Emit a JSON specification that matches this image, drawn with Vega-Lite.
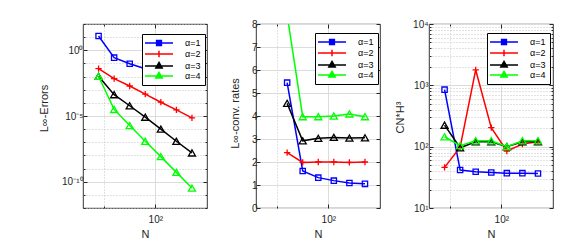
{
"$schema": "https://vega.github.io/schema/vega-lite/v6.json",
"autosize": {"type": "pad"},
"padding": {"left": 37, "top": 11, "right": 0, "bottom": 0},
"spacing": 49,
"bounds": "flush",
"config": {
  "font": "Liberation Sans",
  "view": {"stroke": "#000000", "strokeWidth": 0.8},
  "axis": {"labelFontSize": 10, "titleFontSize": 11, "titleFontWeight": "normal", "labelColor": "#262626", "titleColor": "#262626", "domain": false, "tickColor": "#262626", "labelOverlap": false, "labelFlush": false},
  "legend": {"labelFontSize": 9, "labelColor": "#000000"}
},
"datasets": {
  "err": [
    {"N": 8, "s": "α=1", "v": 12.3}, {"N": 16, "s": "α=1", "v": 0.275}, {"N": 32, "s": "α=1", "v": 0.0955}, {"N": 64, "s": "α=1", "v": 0.0398}, {"N": 128, "s": "α=1", "v": 0.0178}, {"N": 256, "s": "α=1", "v": 0.0087}, {"N": 512, "s": "α=1", "v": 0.00427},
    {"N": 8, "s": "α=2", "v": 0.0398}, {"N": 16, "s": "α=2", "v": 0.00692}, {"N": 32, "s": "α=2", "v": 0.00191}, {"N": 64, "s": "α=2", "v": 0.000468}, {"N": 128, "s": "α=2", "v": 0.000112}, {"N": 256, "s": "α=2", "v": 0.0000295}, {"N": 512, "s": "α=2", "v": 0.00000724},
    {"N": 8, "s": "α=3", "v": 0.0105}, {"N": 16, "s": "α=3", "v": 0.000417}, {"N": 32, "s": "α=3", "v": 0.0000603}, {"N": 64, "s": "α=3", "v": 0.00000813}, {"N": 128, "s": "α=3", "v": 0.000001}, {"N": 256, "s": "α=3", "v": 1.2e-7}, {"N": 512, "s": "α=3", "v": 1.55e-8},
    {"N": 8, "s": "α=4", "v": 0.0105}, {"N": 16, "s": "α=4", "v": 0.0000316}, {"N": 32, "s": "α=4", "v": 0.00000186}, {"N": 64, "s": "α=4", "v": 1.2e-7}, {"N": 128, "s": "α=4", "v": 8.13e-9}, {"N": 256, "s": "α=4", "v": 5.13e-10}, {"N": 512, "s": "α=4", "v": 3.31e-11}
  ],
  "rate": [
    {"N": 16, "s": "α=1", "v": 5.45}, {"N": 32, "s": "α=1", "v": 1.61}, {"N": 64, "s": "α=1", "v": 1.32}, {"N": 128, "s": "α=1", "v": 1.19}, {"N": 256, "s": "α=1", "v": 1.09}, {"N": 512, "s": "α=1", "v": 1.05},
    {"N": 16, "s": "α=2", "v": 2.41}, {"N": 32, "s": "α=2", "v": 1.98}, {"N": 64, "s": "α=2", "v": 2.0}, {"N": 128, "s": "α=2", "v": 2.0}, {"N": 256, "s": "α=2", "v": 1.98}, {"N": 512, "s": "α=2", "v": 2.0},
    {"N": 16, "s": "α=3", "v": 4.55}, {"N": 32, "s": "α=3", "v": 2.92}, {"N": 64, "s": "α=3", "v": 3.03}, {"N": 128, "s": "α=3", "v": 3.07}, {"N": 256, "s": "α=3", "v": 3.04}, {"N": 512, "s": "α=3", "v": 3.05},
    {"N": 16, "s": "α=4", "v": 8.4}, {"N": 32, "s": "α=4", "v": 3.97}, {"N": 64, "s": "α=4", "v": 3.97}, {"N": 128, "s": "α=4", "v": 4.0}, {"N": 256, "s": "α=4", "v": 4.09}, {"N": 512, "s": "α=4", "v": 3.97}
  ],
  "cn": [
    {"N": 8, "s": "α=1", "v": 850}, {"N": 16, "s": "α=1", "v": 41.7}, {"N": 32, "s": "α=1", "v": 39}, {"N": 64, "s": "α=1", "v": 38}, {"N": 128, "s": "α=1", "v": 37}, {"N": 256, "s": "α=1", "v": 37}, {"N": 512, "s": "α=1", "v": 36.5},
    {"N": 8, "s": "α=2", "v": 46}, {"N": 16, "s": "α=2", "v": 98}, {"N": 32, "s": "α=2", "v": 1780}, {"N": 64, "s": "α=2", "v": 204}, {"N": 128, "s": "α=2", "v": 85}, {"N": 256, "s": "α=2", "v": 110}, {"N": 512, "s": "α=2", "v": 120},
    {"N": 8, "s": "α=3", "v": 224}, {"N": 16, "s": "α=3", "v": 96}, {"N": 32, "s": "α=3", "v": 120}, {"N": 64, "s": "α=3", "v": 120}, {"N": 128, "s": "α=3", "v": 100}, {"N": 256, "s": "α=3", "v": 120}, {"N": 512, "s": "α=3", "v": 120},
    {"N": 8, "s": "α=4", "v": 145}, {"N": 16, "s": "α=4", "v": 104}, {"N": 32, "s": "α=4", "v": 125}, {"N": 64, "s": "α=4", "v": 125}, {"N": 128, "s": "α=4", "v": 100}, {"N": 256, "s": "α=4", "v": 125}, {"N": 512, "s": "α=4", "v": 125}
  ]
},
"hconcat": [
  {
    "width": 124, "height": 184,
    "data": {"name": "err"},
    "layer": [
      {
        "mark": {"type": "line", "strokeWidth": 1.5, "clip": true},
        "encoding": {
          "x": {"field": "N", "type": "quantitative", "scale": {"type": "log", "domain": [4, 1000], "nice": false},
                "axis": {"orient": "bottom", "values": [10, 100], "title": "N", "labelExpr": "datum.value===100?'10²':''", "grid": true,
                         "gridColor": {"condition": {"test": "datum.value===100", "value": "#dcdcdc"}, "value": "#c4c4c4"},
                         "gridDash": {"condition": {"test": "datum.value===100", "value": []}, "value": [1, 2]},
                         "tickSize": {"condition": {"test": "datum.value===100", "value": -4}, "value": -2},
                         "labelPadding": 10, "titlePadding": 2}},
          "y": {"field": "v", "type": "quantitative", "scale": {"type": "log", "domain": [1e-12, 100], "nice": false},
                "axis": {"orient": "left", "values": [1e-12, 1e-11, 1e-10, 1e-9, 1e-8, 1e-7, 1e-6, 1e-5, 1e-4, 1e-3, 1e-2, 1e-1, 1, 10, 100],
                         "title": "L∞-Errors", "titleX": -34, "titleY": 84,
                         "labelExpr": "round(log(datum.value)/LN10)===0?'10⁰':round(log(datum.value)/LN10)===-5?'10⁻⁵':round(log(datum.value)/LN10)===-10?'10⁻¹⁰':''",
                         "grid": true,
                         "gridColor": {"condition": {"test": "round(log(datum.value)/LN10)%5===0", "value": "#dcdcdc"}, "value": "#c4c4c4"},
                         "gridDash": {"condition": {"test": "round(log(datum.value)/LN10)%5===0", "value": []}, "value": [1, 2]},
                         "tickSize": {"condition": {"test": "round(log(datum.value)/LN10)%5===0", "value": -4}, "value": -2},
                         "labelPadding": 4}},
          "color": {"field": "s", "type": "nominal", "scale": {"domain": ["α=1", "α=2", "α=3", "α=4"], "range": ["#0000ff", "#ff0000", "#000000", "#00ff00"]},
                    "legend": {"title": null, "orient": "none", "legendX": 59, "legendY": 10, "strokeColor": "#000000", "fillColor": "#ffffff", "padding": 4, "symbolSize": 64, "symbolOffset": 8, "labelOffset": 21, "rowPadding": -2.3,
                               "labelExpr": "datum.label + '   '",
                               "encode": {"symbols": {"update": {
                                 "shape": {"signal": "datum.value==='α=1'?'M-3.5,0H3.5M-0.6,-0.6H0.6V0.6H-0.6Z':datum.value==='α=2'?'M-3.5,0H3.5M0,-0.8V0.8':'M-3.5,0H3.5M0,-0.9L0.8,0.5H-0.8Z'"},
                                 "fill": {"signal": "datum.value==='α=1'?'#0000ff':datum.value==='α=2'?'#ff0000':datum.value==='α=3'?'#000000':'#00ff00'"},
                                 "stroke": {"signal": "datum.value==='α=1'?'#0000ff':datum.value==='α=2'?'#ff0000':datum.value==='α=3'?'#000000':'#00ff00'"},
                                 "strokeWidth": {"value": 1.5}, "opacity": {"value": 1}, "fillOpacity": {"value": 1}}}}}}
        }
      },
      {
        "mark": {"type": "point", "filled": false, "strokeWidth": 1.3, "opacity": 1, "clip": true},
        "encoding": {
          "x": {"field": "N", "type": "quantitative", "axis": null},
          "y": {"field": "v", "type": "quantitative", "axis": null},
          "color": {"field": "s", "type": "nominal"},
          "shape": {"condition": [{"test": "datum.s==='α=1'", "value": "square"}, {"test": "datum.s==='α=2'", "value": "M-1,0H1M0,-1V1"}], "value": "triangle-up"},
          "size": {"condition": [{"test": "datum.s==='α=1'", "value": 28}, {"test": "datum.s==='α=2'", "value": 40}], "value": 50}
        }
      },
      {
        "mark": {"type": "point", "opacity": 0},
        "encoding": {
          "x": {"field": "N", "type": "quantitative", "axis": {"orient": "top", "values": [10, 100], "labels": false, "title": null, "grid": false,
                "tickSize": {"condition": {"test": "datum.value===100", "value": -4}, "value": -2}}},
          "y": {"field": "v", "type": "quantitative", "axis": {"orient": "right", "values": [1e-12, 1e-11, 1e-10, 1e-9, 1e-8, 1e-7, 1e-6, 1e-5, 1e-4, 1e-3, 1e-2, 1e-1, 1, 10, 100], "labels": false, "title": null, "grid": false,
                "tickSize": {"condition": {"test": "round(log(datum.value)/LN10)%5===0", "value": -4}, "value": -2}}}
        }
      }
    ],
    "resolve": {"axis": {"x": "independent", "y": "independent"}}
  },
  {
    "width": 124, "height": 184,
    "data": {"name": "rate"},
    "layer": [
      {
        "mark": {"type": "line", "strokeWidth": 1.5, "clip": true},
        "encoding": {
          "x": {"field": "N", "type": "quantitative", "scale": {"type": "log", "domain": [4, 1000], "nice": false},
                "axis": {"orient": "bottom", "values": [10, 100], "title": "N", "labelExpr": "datum.value===100?'10²':''", "grid": true,
                         "gridColor": {"condition": {"test": "datum.value===100", "value": "#dcdcdc"}, "value": "#c4c4c4"},
                         "gridDash": {"condition": {"test": "datum.value===100", "value": []}, "value": [1, 2]},
                         "tickSize": {"condition": {"test": "datum.value===100", "value": -4}, "value": -2},
                         "labelPadding": 10, "titlePadding": 2}},
          "y": {"field": "v", "type": "quantitative", "scale": {"domain": [0, 8], "nice": false, "zero": false},
                "axis": {"orient": "left", "values": [0, 1, 2, 3, 4, 5, 6, 7, 8], "title": "L∞-conv. rates", "titleX": -16, "titleY": 89,
                         "grid": true, "gridColor": "#dcdcdc", "tickSize": -4, "labelPadding": 3}},
          "color": {"field": "s", "type": "nominal", "scale": {"domain": ["α=1", "α=2", "α=3", "α=4"], "range": ["#0000ff", "#ff0000", "#000000", "#00ff00"]},
                    "legend": {"title": null, "orient": "none", "legendX": 59, "legendY": 9, "strokeColor": "#000000", "fillColor": "#ffffff", "padding": 4, "symbolSize": 64, "symbolOffset": 8, "labelOffset": 21, "rowPadding": -2.3,
                               "labelExpr": "datum.label + '   '",
                               "encode": {"symbols": {"update": {
                                 "shape": {"signal": "datum.value==='α=1'?'M-3.5,0H3.5M-0.6,-0.6H0.6V0.6H-0.6Z':datum.value==='α=2'?'M-3.5,0H3.5M0,-0.8V0.8':'M-3.5,0H3.5M0,-0.9L0.8,0.5H-0.8Z'"},
                                 "fill": {"signal": "datum.value==='α=1'?'#0000ff':datum.value==='α=2'?'#ff0000':datum.value==='α=3'?'#000000':'#00ff00'"},
                                 "stroke": {"signal": "datum.value==='α=1'?'#0000ff':datum.value==='α=2'?'#ff0000':datum.value==='α=3'?'#000000':'#00ff00'"},
                                 "strokeWidth": {"value": 1.5}, "opacity": {"value": 1}, "fillOpacity": {"value": 1}}}}}}
        }
      },
      {
        "mark": {"type": "point", "filled": false, "strokeWidth": 1.3, "opacity": 1, "clip": true},
        "encoding": {
          "x": {"field": "N", "type": "quantitative", "axis": null},
          "y": {"field": "v", "type": "quantitative", "axis": null},
          "color": {"field": "s", "type": "nominal"},
          "shape": {"condition": [{"test": "datum.s==='α=1'", "value": "square"}, {"test": "datum.s==='α=2'", "value": "M-1,0H1M0,-1V1"}], "value": "triangle-up"},
          "size": {"condition": [{"test": "datum.s==='α=1'", "value": 28}, {"test": "datum.s==='α=2'", "value": 40}], "value": 50}
        }
      },
      {
        "mark": {"type": "point", "opacity": 0},
        "encoding": {
          "x": {"field": "N", "type": "quantitative", "axis": {"orient": "top", "values": [10, 100], "labels": false, "title": null, "grid": false,
                "tickSize": {"condition": {"test": "datum.value===100", "value": -4}, "value": -2}}},
          "y": {"field": "v", "type": "quantitative", "axis": {"orient": "right", "values": [0, 1, 2, 3, 4, 5, 6, 7, 8], "labels": false, "title": null, "grid": false, "tickSize": -4}}
        }
      }
    ],
    "resolve": {"axis": {"x": "independent", "y": "independent"}}
  },
  {
    "width": 124, "height": 184,
    "data": {"name": "cn"},
    "layer": [
      {
        "mark": {"type": "line", "strokeWidth": 1.5, "clip": true},
        "encoding": {
          "x": {"field": "N", "type": "quantitative", "scale": {"type": "log", "domain": [4, 1000], "nice": false},
                "axis": {"orient": "bottom", "values": [10, 100], "title": "N", "labelExpr": "datum.value===100?'10²':''", "grid": true,
                         "gridColor": {"condition": {"test": "datum.value===100", "value": "#dcdcdc"}, "value": "#c4c4c4"},
                         "gridDash": {"condition": {"test": "datum.value===100", "value": []}, "value": [1, 2]},
                         "tickSize": {"condition": {"test": "datum.value===100", "value": -4}, "value": -2},
                         "labelPadding": 10, "titlePadding": 2}},
          "y": {"field": "v", "type": "quantitative", "scale": {"type": "log", "domain": [10, 10000], "nice": false},
                "axis": {"orient": "left", "values": [10, 20, 30, 40, 50, 60, 70, 80, 90, 100, 200, 300, 400, 500, 600, 700, 800, 900, 1000, 2000, 3000, 4000, 5000, 6000, 7000, 8000, 9000, 10000],
                         "title": "CN*H³", "titleX": -24, "titleY": 93,
                         "labelExpr": "datum.value===10?'10¹':datum.value===100?'10²':datum.value===1000?'10³':datum.value===10000?'10⁴':''",
                         "grid": true,
                         "gridColor": {"condition": {"test": "datum.value===10||datum.value===100||datum.value===1000||datum.value===10000", "value": "#dcdcdc"}, "value": "#c4c4c4"},
                         "gridDash": {"condition": {"test": "datum.value===10||datum.value===100||datum.value===1000||datum.value===10000", "value": []}, "value": [1, 2]},
                         "tickSize": {"condition": {"test": "datum.value===10||datum.value===100||datum.value===1000||datum.value===10000", "value": -4}, "value": -2},
                         "labelPadding": 5}},
          "color": {"field": "s", "type": "nominal", "scale": {"domain": ["α=1", "α=2", "α=3", "α=4"], "range": ["#0000ff", "#ff0000", "#000000", "#00ff00"]},
                    "legend": {"title": null, "orient": "none", "legendX": 58, "legendY": 9, "strokeColor": "#000000", "fillColor": "#ffffff", "padding": 4, "symbolSize": 64, "symbolOffset": 8, "labelOffset": 21, "rowPadding": -2.3,
                               "labelExpr": "datum.label + '   '",
                               "encode": {"symbols": {"update": {
                                 "shape": {"signal": "datum.value==='α=1'?'M-3.5,0H3.5M-0.6,-0.6H0.6V0.6H-0.6Z':datum.value==='α=2'?'M-3.5,0H3.5M0,-0.8V0.8':'M-3.5,0H3.5M0,-0.9L0.8,0.5H-0.8Z'"},
                                 "fill": {"signal": "datum.value==='α=1'?'#0000ff':datum.value==='α=2'?'#ff0000':datum.value==='α=3'?'#000000':'#00ff00'"},
                                 "stroke": {"signal": "datum.value==='α=1'?'#0000ff':datum.value==='α=2'?'#ff0000':datum.value==='α=3'?'#000000':'#00ff00'"},
                                 "strokeWidth": {"value": 1.5}, "opacity": {"value": 1}, "fillOpacity": {"value": 1}}}}}}
        }
      },
      {
        "mark": {"type": "point", "filled": false, "strokeWidth": 1.3, "opacity": 1, "clip": true},
        "encoding": {
          "x": {"field": "N", "type": "quantitative", "axis": null},
          "y": {"field": "v", "type": "quantitative", "axis": null},
          "color": {"field": "s", "type": "nominal"},
          "shape": {"condition": [{"test": "datum.s==='α=1'", "value": "square"}, {"test": "datum.s==='α=2'", "value": "M-1,0H1M0,-1V1"}], "value": "triangle-up"},
          "size": {"condition": [{"test": "datum.s==='α=1'", "value": 28}, {"test": "datum.s==='α=2'", "value": 40}], "value": 50}
        }
      },
      {
        "mark": {"type": "point", "opacity": 0},
        "encoding": {
          "x": {"field": "N", "type": "quantitative", "axis": {"orient": "top", "values": [10, 100], "labels": false, "title": null, "grid": false,
                "tickSize": {"condition": {"test": "datum.value===100", "value": -4}, "value": -2}}},
          "y": {"field": "v", "type": "quantitative", "axis": {"orient": "right", "values": [10, 20, 30, 40, 50, 60, 70, 80, 90, 100, 200, 300, 400, 500, 600, 700, 800, 900, 1000, 2000, 3000, 4000, 5000, 6000, 7000, 8000, 9000, 10000], "labels": false, "title": null, "grid": false,
                "tickSize": {"condition": {"test": "datum.value===10||datum.value===100||datum.value===1000||datum.value===10000", "value": -4}, "value": -2}}}
        }
      }
    ],
    "resolve": {"axis": {"x": "independent", "y": "independent"}}
  }
],
"resolve": {
  "scale": {"x": "independent", "y": "independent", "color": "independent"},
  "legend": {"color": "independent"}
}
}
